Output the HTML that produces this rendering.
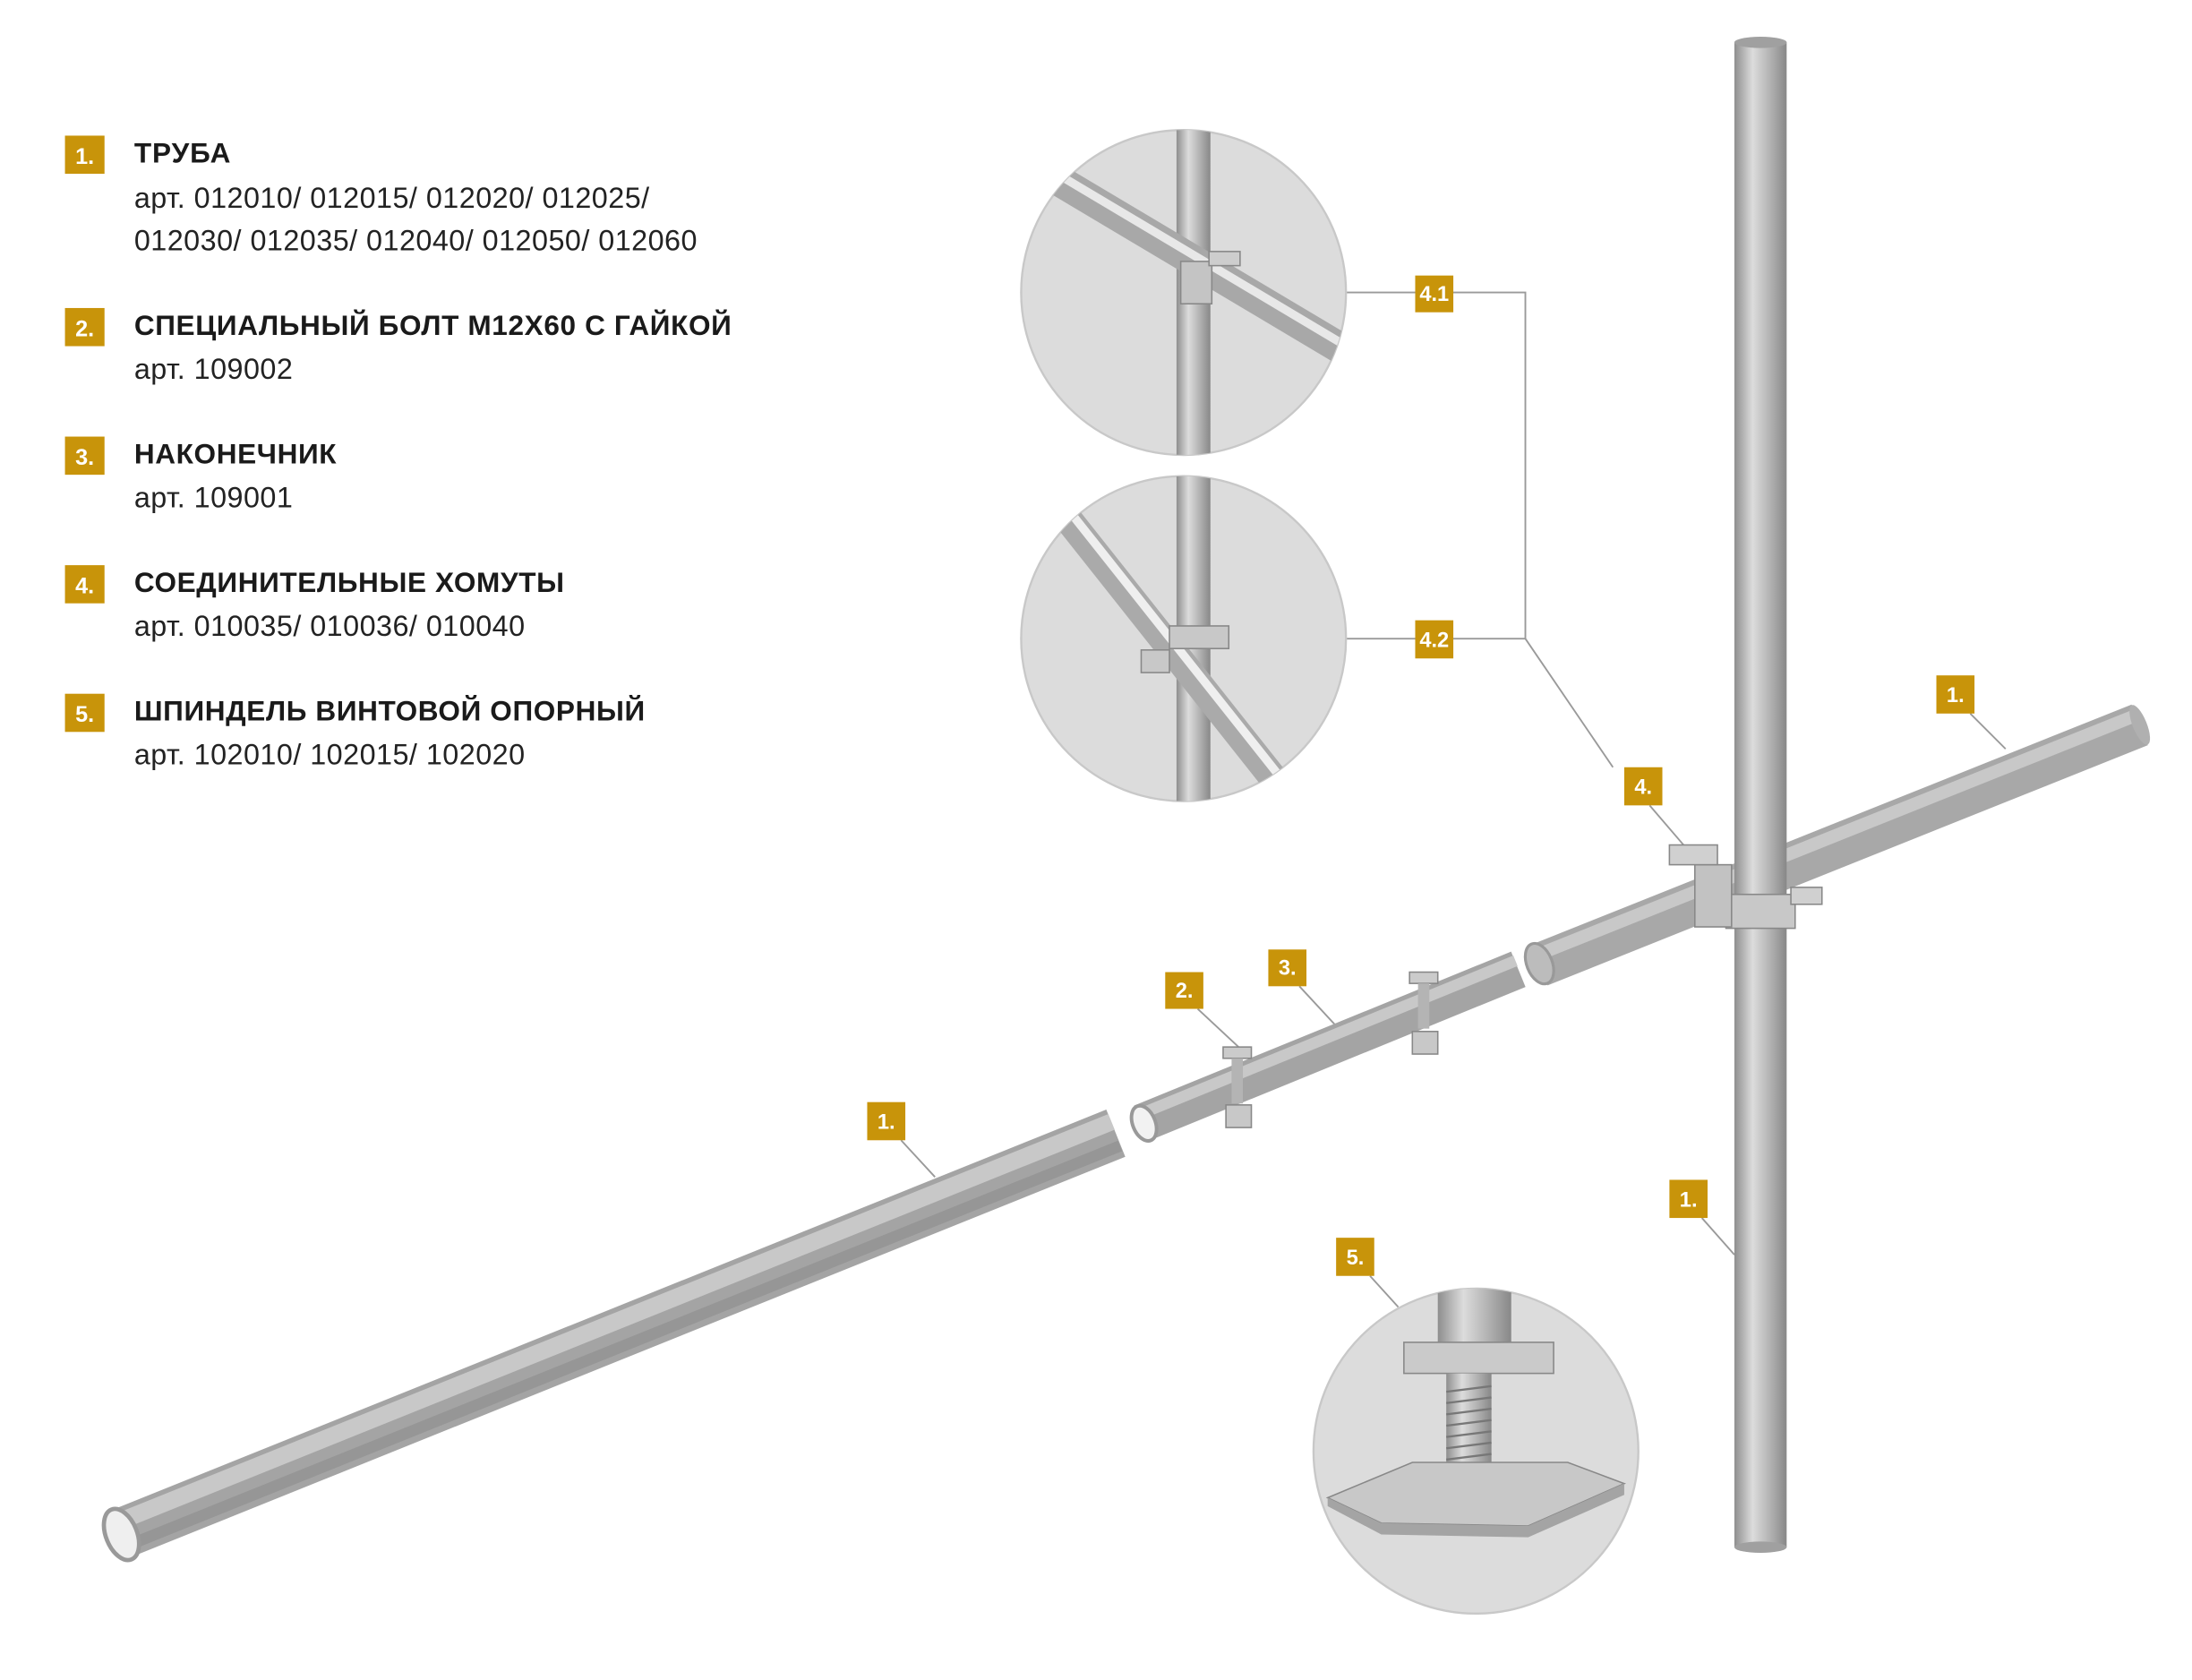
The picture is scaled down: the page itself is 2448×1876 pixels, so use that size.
<!DOCTYPE html>
<html><head><meta charset="utf-8"><style>
html,body{margin:0;padding:0;background:#fff}
svg{display:block}
</style></head><body>
<svg width="2448" height="1876" viewBox="0 0 1552 1189" preserveAspectRatio="none" xmlns="http://www.w3.org/2000/svg" font-family="Liberation Sans, sans-serif">
<defs>
<clipPath id="c1"><circle cx="838" cy="207" r="115"/></clipPath>
<clipPath id="c2"><circle cx="838" cy="452" r="115"/></clipPath>
<clipPath id="c3"><circle cx="1045" cy="1027" r="115"/></clipPath>
<linearGradient id="vg" x1="0" x2="1" y1="0" y2="0">
<stop offset="0" stop-color="#8e8e8e"/><stop offset="0.35" stop-color="#dcdcdc"/><stop offset="0.7" stop-color="#b0b0b0"/><stop offset="1" stop-color="#888"/></linearGradient>
</defs>
<rect width="1552" height="1189" fill="#fff"/>

<!-- legend -->
<g font-size="20.5" letter-spacing="0.3">
<rect x="46" y="96" width="28" height="27" fill="#c8940a"/><text x="60" y="116" fill="#fff" font-weight="bold" font-size="16" text-anchor="middle" letter-spacing="0">1.</text>
<text x="95" y="115" font-weight="bold" font-size="20" letter-spacing="0.6" fill="#1a1a1a">ТРУБА</text>
<text x="95" y="147" fill="#222">арт. 012010/ 012015/ 012020/ 012025/</text>
<text x="95" y="177" fill="#222">012030/ 012035/ 012040/ 012050/ 012060</text>
<rect x="46" y="218" width="28" height="27" fill="#c8940a"/><text x="60" y="238" fill="#fff" font-weight="bold" font-size="16" text-anchor="middle" letter-spacing="0">2.</text>
<text x="95" y="237" font-weight="bold" font-size="20" letter-spacing="0.4" fill="#1a1a1a">СПЕЦИАЛЬНЫЙ БОЛТ М12Х60 С ГАЙКОЙ</text>
<text x="95" y="268" fill="#222">арт. 109002</text>
<rect x="46" y="309" width="28" height="27" fill="#c8940a"/><text x="60" y="329" fill="#fff" font-weight="bold" font-size="16" text-anchor="middle" letter-spacing="0">3.</text>
<text x="95" y="328" font-weight="bold" font-size="20" letter-spacing="0.4" fill="#1a1a1a">НАКОНЕЧНИК</text>
<text x="95" y="359" fill="#222">арт. 109001</text>
<rect x="46" y="400" width="28" height="27" fill="#c8940a"/><text x="60" y="420" fill="#fff" font-weight="bold" font-size="16" text-anchor="middle" letter-spacing="0">4.</text>
<text x="95" y="419" font-weight="bold" font-size="20" letter-spacing="0.4" fill="#1a1a1a">СОЕДИНИТЕЛЬНЫЕ ХОМУТЫ</text>
<text x="95" y="450" fill="#222">арт. 010035/ 010036/ 010040</text>
<rect x="46" y="491" width="28" height="27" fill="#c8940a"/><text x="60" y="511" fill="#fff" font-weight="bold" font-size="16" text-anchor="middle" letter-spacing="0">5.</text>
<text x="95" y="510" font-weight="bold" font-size="20" letter-spacing="0.4" fill="#1a1a1a">ШПИНДЕЛЬ ВИНТОВОЙ ОПОРНЫЙ</text>
<text x="95" y="541" fill="#222">арт. 102010/ 102015/ 102020</text>
</g>

<!-- leader lines -->
<g stroke="#9a9a9a" stroke-width="1.2" fill="none">
<polyline points="953,207 1080,207 1080,452"/>
<line x1="953" y1="452" x2="1080" y2="452"/>
<polyline points="1080,452 1142,543"/>
<line x1="1168" y1="570" x2="1198" y2="605"/>
<line x1="1395" y1="505" x2="1420" y2="530"/>
<line x1="848" y1="714" x2="878" y2="742"/>
<line x1="920" y1="698" x2="945" y2="725"/>
<line x1="638" y1="807" x2="662" y2="833"/>
<line x1="1205" y1="862" x2="1228" y2="888"/>
<line x1="970" y1="903" x2="990" y2="925"/>
</g>

<!-- circles -->
<g>
<circle cx="838" cy="207" r="115" fill="#dcdcdc" stroke="#c8c8c8" stroke-width="1.5"/>
<g clip-path="url(#c1)">
<rect x="833" y="90" width="24" height="240" fill="url(#vg)"/>
<line x1="740" y1="122" x2="955" y2="250" stroke="#a8a8a8" stroke-width="22"/>
<line x1="740" y1="118" x2="955" y2="246" stroke="#e8e8e8" stroke-width="6"/>
<rect x="836" y="185" width="22" height="30" fill="#c4c4c4" stroke="#888" stroke-width="1"/>
<rect x="856" y="178" width="22" height="10" fill="#cdcdcd" stroke="#888" stroke-width="1"/>
</g>
<circle cx="838" cy="452" r="115" fill="#dcdcdc" stroke="#c8c8c8" stroke-width="1.5"/>
<g clip-path="url(#c2)">
<rect x="833" y="335" width="24" height="240" fill="url(#vg)"/>
<line x1="752" y1="362" x2="905" y2="555" stroke="#aaaaaa" stroke-width="20"/>
<line x1="755" y1="359" x2="908" y2="552" stroke="#efefef" stroke-width="6"/>
<rect x="828" y="443" width="42" height="16" fill="#c8c8c8" stroke="#888" stroke-width="1"/>
<rect x="808" y="460" width="20" height="16" fill="#c8c8c8" stroke="#888" stroke-width="1"/>
</g>
<circle cx="1045" cy="1027" r="115" fill="#dcdcdc" stroke="#c8c8c8" stroke-width="1.5"/>
<g clip-path="url(#c3)">
<rect x="1018" y="905" width="52" height="60" fill="url(#vg)"/>
<rect x="994" y="950" width="106" height="22" fill="#cacaca" stroke="#888" stroke-width="1"/>
<rect x="1024" y="972" width="32" height="73" fill="url(#vg)"/>
<g stroke="#777" stroke-width="1.5">
<line x1="1024" y1="985" x2="1056" y2="981"/><line x1="1024" y1="993" x2="1056" y2="989"/><line x1="1024" y1="1001" x2="1056" y2="997"/><line x1="1024" y1="1009" x2="1056" y2="1005"/><line x1="1024" y1="1017" x2="1056" y2="1013"/><line x1="1024" y1="1025" x2="1056" y2="1021"/><line x1="1024" y1="1033" x2="1056" y2="1029"/>
</g>
<polygon points="940,1060 1000,1035 1110,1035 1150,1050 1082,1080 978,1078" fill="#c8c8c8" stroke="#888" stroke-width="1"/>
<polygon points="940,1060 978,1078 1082,1080 1150,1050 1150,1058 1082,1088 978,1086 940,1066" fill="#a4a4a4"/>
</g>
</g>

<!-- tubes -->
<g stroke-linecap="butt">
<line x1="82" y1="1087" x2="790" y2="802" stroke="#a4a4a4" stroke-width="36"/>
<line x1="79" y1="1079" x2="787" y2="794" stroke="#c8c8c8" stroke-width="12"/>
<line x1="85" y1="1096" x2="793" y2="811" stroke="#969696" stroke-width="8"/>
<ellipse cx="86" cy="1086" rx="11" ry="19" transform="rotate(-22 86 1086)" fill="#efefef" stroke="#999" stroke-width="3"/>
<line x1="808" y1="795" x2="1075" y2="686" stroke="#a4a4a4" stroke-width="27"/>
<line x1="806" y1="789" x2="1073" y2="680" stroke="#c8c8c8" stroke-width="8"/>
<ellipse cx="810" cy="795" rx="8" ry="13" transform="rotate(-22 810 795)" fill="#f2f2f2" stroke="#999" stroke-width="2.5"/>
<line x1="1090" y1="683" x2="1515" y2="513" stroke="#a8a8a8" stroke-width="31"/>
<line x1="1088" y1="676" x2="1513" y2="506" stroke="#c8c8c8" stroke-width="9"/>
<ellipse cx="1090" cy="682" rx="9" ry="15" transform="rotate(-22 1090 682)" fill="#bcbcbc" stroke="#999" stroke-width="2"/>
<ellipse cx="1515" cy="513" rx="5" ry="15" transform="rotate(-22 1515 513)" fill="#b0b0b0"/>
<rect x="1228" y="30" width="37" height="1065" fill="url(#vg)"/>
<ellipse cx="1246.5" cy="30" rx="18.5" ry="4" fill="#a0a0a0"/>
<ellipse cx="1246.5" cy="1095" rx="18.5" ry="4" fill="#a0a0a0"/>
<rect x="1222" y="633" width="49" height="24" fill="#c8c8c8" stroke="#888" stroke-width="1"/>
<rect x="1200" y="612" width="26" height="44" fill="#c2c2c2" stroke="#888" stroke-width="1"/>
<rect x="1182" y="598" width="34" height="14" fill="#d0d0d0" stroke="#888" stroke-width="1"/>
<rect x="1268" y="628" width="22" height="12" fill="#d0d0d0" stroke="#888" stroke-width="1"/>
<rect x="866" y="741" width="20" height="8" fill="#cbcbcb" stroke="#888"/>
<rect x="872" y="749" width="8" height="32" fill="#b4b4b4"/>
<rect x="868" y="782" width="18" height="16" fill="#c8c8c8" stroke="#888"/>
<rect x="998" y="688" width="20" height="8" fill="#cbcbcb" stroke="#888"/>
<rect x="1004" y="696" width="8" height="32" fill="#b4b4b4"/>
<rect x="1000" y="730" width="18" height="16" fill="#c8c8c8" stroke="#888"/>
</g>

<!-- badges -->
<g font-weight="bold" font-size="15" fill="#fff" text-anchor="middle">
<rect x="1002" y="195" width="27" height="26" fill="#c8940a"/><text x="1015.5" y="213">4.1</text>
<rect x="1002" y="439" width="27" height="27" fill="#c8940a"/><text x="1015.5" y="458">4.2</text>
<rect x="1150" y="543" width="27" height="27" fill="#c8940a"/><text x="1163.5" y="562">4.</text>
<rect x="1371" y="478" width="27" height="27" fill="#c8940a"/><text x="1384.5" y="497">1.</text>
<rect x="825" y="688" width="27" height="26" fill="#c8940a"/><text x="838.5" y="706">2.</text>
<rect x="898" y="672" width="27" height="26" fill="#c8940a"/><text x="911.5" y="690">3.</text>
<rect x="614" y="780" width="27" height="27" fill="#c8940a"/><text x="627.5" y="799">1.</text>
<rect x="1182" y="835" width="27" height="27" fill="#c8940a"/><text x="1195.5" y="854">1.</text>
<rect x="946" y="876" width="27" height="27" fill="#c8940a"/><text x="959.5" y="895">5.</text>
</g>
</svg>
</body></html>
